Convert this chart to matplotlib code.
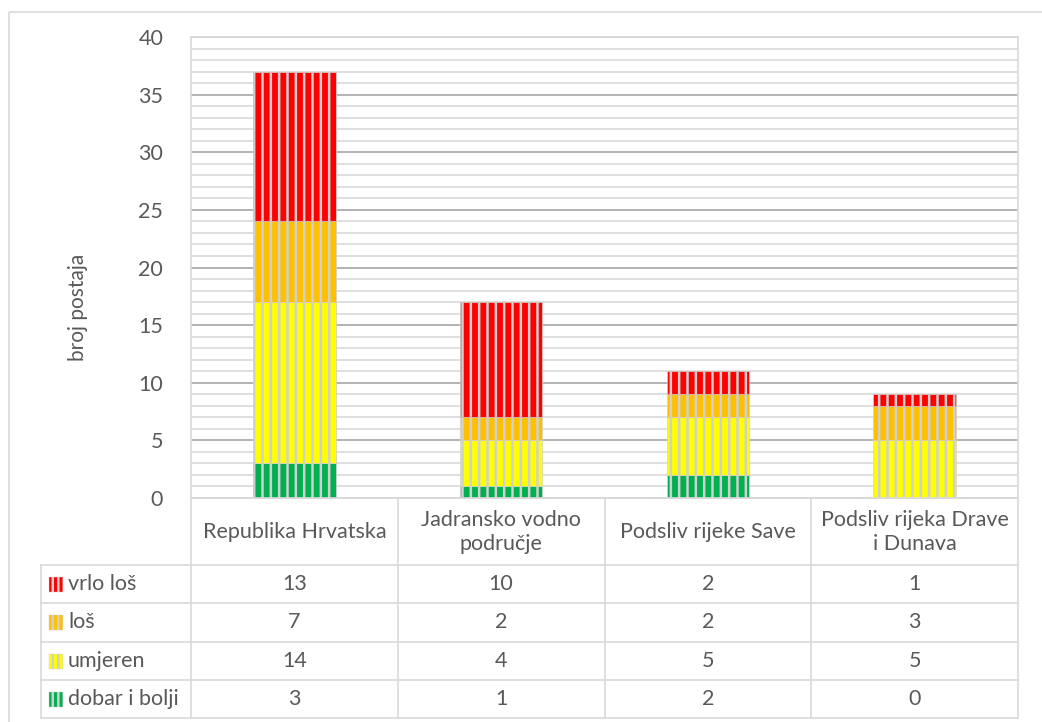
import matplotlib
matplotlib.use("Agg")
import matplotlib.pyplot as plt
import numpy as np
from matplotlib.patches import Rectangle

# data
regions = ["Republika Hrvatska", "Jadransko vodno\npodručje", "Podsliv rijeke Save", "Podsliv rijeka Drave\ni Dunava"]
vrlo_los = [13, 10, 2, 1]
los = [7, 2, 2, 3]
umjeren = [14, 4, 5, 5]
dobar = [3, 1, 2, 0]
y_ticks = [0, 5, 10, 15, 20, 25, 30, 35, 40]

# stacked bottom-up, table top-down
series = [("dobar i bolji", dobar, "#00B050"),
          ("umjeren", umjeren, "#FFFF00"),
          ("loš", los, "#FFC000"),
          ("vrlo loš", vrlo_los, "#FF0000")]

plt.rcParams["font.family"] = ["Lato", "DejaVu Sans"]
plt.rcParams["hatch.linewidth"] = 1.8
txt_col = "#595959"
line_col = "#D9D9D9"
fs = 15.5

W, H = 1042, 722
fig = plt.figure(figsize=(W / 100, H / 100), dpi=100)

# pixel layout
x0, x1 = 191, 1018
y_top, y_bot = 37, 498
ax = fig.add_axes([x0 / W, 1 - y_bot / H, (x1 - x0) / W, (y_bot - y_top) / H])

n = len(regions)
xpos = np.arange(n)
bottom = np.zeros(n)
for name, vals, col in series:
    ax.bar(xpos, vals, width=0.4, bottom=bottom, color=col, edgecolor="#D0D0D0",
           linewidth=0.5, hatch="||", zorder=3)
    bottom += np.array(vals)

ax.set_xlim(-0.5, n - 0.5)
ax.set_ylim(0, 40)
ax.set_yticks(y_ticks)
ax.set_yticks(np.arange(0, 41, 1), minor=True)
ax.set_xticks([])
ax.grid(which="minor", axis="y", color=line_col, linewidth=1.2, zorder=0)
ax.grid(which="major", axis="y", color="#A6A6A6", linewidth=1.2, zorder=1)
ax.tick_params(axis="y", which="both", length=0, pad=20, labelsize=fs, labelcolor=txt_col)
for s in ax.spines.values():
    s.set_color(line_col)
    s.set_linewidth(1.2)
ax.set_ylabel("broj postaja", fontsize=15, color=txt_col)
ax.yaxis.set_label_coords((88 - x0) / (x1 - x0), (y_bot - 307) / (y_bot - y_top))

# table drawn in pixel coordinates
tb = fig.add_axes([0, 0, 1, 1], zorder=5)
tb.set_xlim(0, W)
tb.set_ylim(H, 0)
tb.axis("off")
tb.patch.set_alpha(0)

# outer chart border
tb.add_patch(Rectangle((9, 12), 1100, 800, fill=False, edgecolor=line_col, linewidth=1.2))

t_left = 41
row_edges = [498, 565, 603, 642, 680, 718]
col_w = (x1 - x0) / n
col_edges = [x0 + i * col_w for i in range(n + 1)]

# horizontal lines
tb.plot([x0, x1], [row_edges[0], row_edges[0]], color=line_col, lw=1.2)
for y in row_edges[1:]:
    tb.plot([t_left, x1], [y, y], color=line_col, lw=1.2)
# vertical lines
tb.plot([t_left, t_left], [row_edges[1], row_edges[-1]], color=line_col, lw=1.2)
for x in col_edges:
    tb.plot([x, x], [row_edges[0], row_edges[-1]], color=line_col, lw=1.2)

# header
for i, r in enumerate(regions):
    tb.text((col_edges[i] + col_edges[i + 1]) / 2, (row_edges[0] + row_edges[1]) / 2, r,
            ha="center", va="center", fontsize=fs, color=txt_col, linespacing=1.25)

# rows
for j, (name, vals, col) in enumerate(series[::-1]):
    yc = (row_edges[j + 1] + row_edges[j + 2]) / 2
    tb.add_patch(Rectangle((49, yc - 7.5), 14, 15, facecolor=col, edgecolor="#D0D0D0",
                           linewidth=0.3, hatch="|||"))
    tb.text(68, yc, name, ha="left", va="center", fontsize=fs, color=txt_col)
    for i, v in enumerate(vals):
        tb.text((col_edges[i] + col_edges[i + 1]) / 2, yc, str(v),
                ha="center", va="center", fontsize=fs, color=txt_col)

fig.savefig("out.png", dpi=100)
